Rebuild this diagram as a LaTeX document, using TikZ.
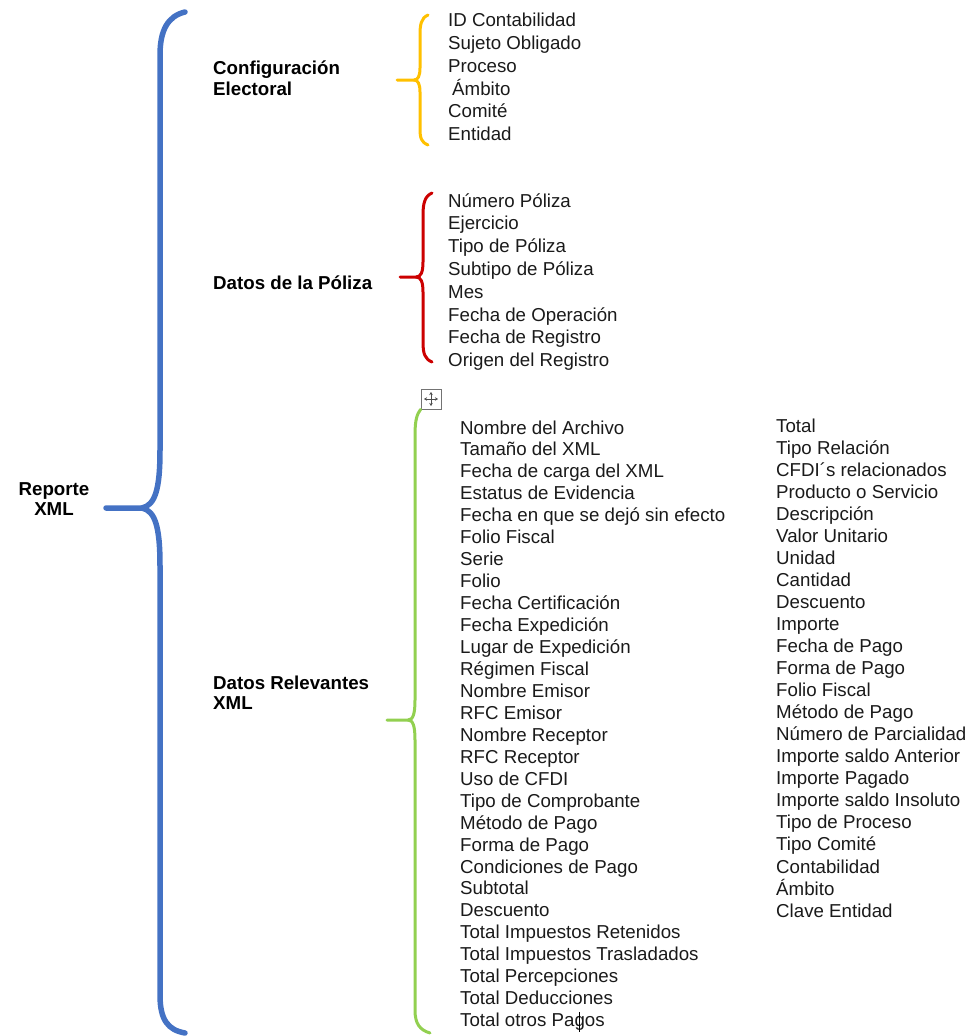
\documentclass[tikz,border=0pt]{standalone}
\usepackage{fontspec}
\setmainfont{Liberation Sans}
\usetikzlibrary{arrows.meta}
\definecolor{bblue}{HTML}{4472C4}
\definecolor{byellow}{HTML}{FFC000}
\definecolor{bred}{HTML}{CC0000}
\definecolor{bgreen}{HTML}{92D050}
\definecolor{txt}{HTML}{1A1A1A}
\begin{document}
\begin{tikzpicture}[x=1pt,y=-1pt,
  item/.style={anchor=base west, inner sep=0pt, text=txt, font=\fontsize{18.7}{22}\selectfont},
  head/.style={anchor=base west, inner sep=0pt, text=black, font=\fontsize{18.7}{21}\selectfont\bfseries},
  root/.style={anchor=base, inner sep=0pt, text=black, font=\fontsize{18.7}{21}\selectfont\bfseries},
  bracestyle/.style={line width=#1, line cap=round, line join=round},
  movebox/.style={draw=black!55, fill=white, line width=0.8pt, minimum width=20pt, minimum height=20pt, inner sep=0pt},
  movearrow/.style={black!70, line width=0.8pt, {Stealth[length=3pt,width=3.5pt]}-{Stealth[length=3pt,width=3.5pt]}}
]
\useasboundingbox (0,0) rectangle (973,1036);

% root
\node[root] (r1) at (54,495) {Reporte};
\node[root] (r2) at (54,515) {XML};

% blue brace
\draw[bblue, bracestyle=5.5pt] (185,12) .. controls (168,16) and (160,30) .. (160,55) -- (160,450)
  .. controls (160,490) and (155,505) .. (142,508) -- (106,508);
\draw[bblue, bracestyle=5.5pt] (142,508) .. controls (155,511) and (160,526) .. (160,566) -- (160,995)
  .. controls (160,1020) and (168,1030) .. (185,1033);

% headings
\node[head] (h1a) at (213,74) {Configuración};
\node[head] (h1b) at (213,95) {Electoral};
\node[head] (h2) at (213,289) {Datos de la Póliza};
\node[head] (h3a) at (213,689) {Datos Relevantes};
\node[head] (h3b) at (213,709) {XML};

% yellow brace
\draw[byellow, bracestyle=3pt] (428,15) .. controls (421,18) and (420,25) .. (420,35) -- (420,68)
  .. controls (420,76) and (418,80) .. (414,80) -- (397,80);
\draw[byellow, bracestyle=3pt] (414,80) .. controls (418,80) and (420,84) .. (420,92) -- (420,128)
  .. controls (420,138) and (421,142) .. (428,145);

% red brace
\draw[bred, bracestyle=3pt] (432,193) .. controls (425,196) and (423,203) .. (423,215) -- (423,262)
  .. controls (423,272) and (421,277) .. (416,277) -- (400,277);
\draw[bred, bracestyle=3pt] (416,277) .. controls (421,277) and (423,282) .. (423,292) -- (423,342)
  .. controls (423,354) and (425,359) .. (432,362);

% move icon
\node[movebox] (mv) at (431,399) {};
\draw[movearrow] (424,399) -- (438,399);
\draw[movearrow] (431,392) -- (431,406);

% green brace
\draw[bgreen, bracestyle=3pt] (mv.south west) .. controls (417,414) and (415,420) .. (415,435) -- (415,700)
  .. controls (415,714) and (413,720) .. (408,720) -- (387,720);
\draw[bgreen, bracestyle=3pt] (408,720) .. controls (413,720) and (415,726) .. (415,740) -- (415,1010)
  .. controls (415,1024) and (420,1030) .. (430,1033);

% list 1
\foreach \t [count=\i] in {ID Contabilidad, Sujeto Obligado, Proceso, \hspace{4pt}Ámbito, Comité, Entidad}
  \node[item] (a\i) at (448,{27+22.7*(\i-1)}) {\t};

% list 2
\foreach \t [count=\i] in {Número Póliza, Ejercicio, Tipo de Póliza, Subtipo de Póliza, Mes, Fecha de Operación, Fecha de Registro, Origen del Registro}
  \node[item] (b\i) at (448,{207+22.8*(\i-1)}) {\t};

% list 3, column 1
\foreach \t [count=\i] in {Nombre del Archivo, Tamaño del XML, Fecha de carga del XML, Estatus de Evidencia, Fecha en que se dejó sin efecto, Folio Fiscal, Serie, Folio, Fecha Certificación, Fecha Expedición, Lugar de Expedición, Régimen Fiscal, Nombre Emisor, RFC Emisor, Nombre Receptor, RFC Receptor, Uso de CFDI, Tipo de Comprobante, Método de Pago, Forma de Pago, Condiciones de Pago, Subtotal, Descuento, Total Impuestos Retenidos, Total Impuestos Trasladados, Total Percepciones, Total Deducciones, Total otros Pagos}
  \node[item] (c\i) at (460,{434+21.95*(\i-1)}) {\t};

% list 3, column 2
\foreach \t [count=\i] in {Total, Tipo Relación, CFDI´s relacionados, Producto o Servicio, Descripción, Valor Unitario, Unidad, Cantidad, Descuento, Importe, Fecha de Pago, Forma de Pago, Folio Fiscal, Método de Pago, Número de Parcialidad, Importe saldo Anterior, Importe Pagado, Importe saldo Insoluto, Tipo de Proceso, Tipo Comité, Contabilidad, Ámbito, Clave Entidad}
  \node[item] (d\i) at (776,{432+22.05*(\i-1)}) {\t};

% text cursor
\coordinate (cur1) at (579,1012);
\coordinate (cur2) at (579,1032);
\draw[black, line width=1pt] (cur1) -- (cur2);
\end{tikzpicture}
\end{document}
